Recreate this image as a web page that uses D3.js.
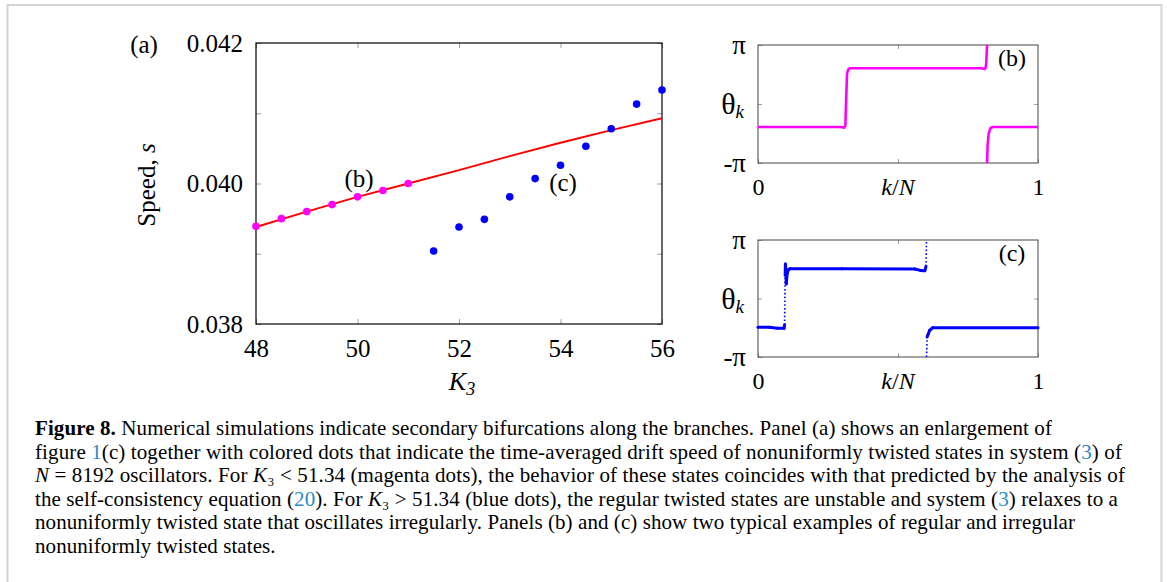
<!DOCTYPE html>
<html>
<head>
<meta charset="utf-8">
<script src="https://cdn.jsdelivr.net/npm/d3@7"></script>
<style>
  body { margin: 0; background: #fff; }
  svg { display: block; }
  text { font-family: "Liberation Serif", "Times New Roman", serif; fill: #000; }
</style>
</head>
<body>
<svg id="fig" width="1167" height="582"></svg>
<script>
// панель (a): теоретическая ветвь и точки моделирования
const lineK3 = [48, 49, 50, 51, 52, 53, 54, 55, 56];
const lineS = [0.03938, 0.03960, 0.03981, 0.04000, 0.04019, 0.04039, 0.04058, 0.04076, 0.04093];
const magentaK3 = [48, 48.5, 49, 49.5, 50, 50.5, 51];
const magentaS = [0.03939, 0.03950, 0.03960, 0.03970, 0.03981, 0.03990, 0.04000];
const blueK3 = [51.5, 52, 52.5, 53, 53.5, 54, 54.5, 55, 55.5, 56];
const blueS = [0.03904, 0.03938, 0.03949, 0.03981, 0.04007, 0.04026, 0.04053, 0.04078, 0.04113, 0.04133];
const kTicks = [48, 50, 52, 54, 56];
const sTicks = [0.038, 0.039, 0.040, 0.041, 0.042];
const sLabels = [0.038, 0.040, 0.042];

// панели (b) и (c): θ_k в единицах π против k/N
const bPart1 = [[0, -0.39], [0.29, -0.39], [0.300, -0.395], [0.308, -0.40], [0.312, -0.37], [0.315, 0.10], [0.318, 0.52], [0.323, 0.59], [0.33, 0.605], [0.80, 0.605], [0.808, 0.595], [0.812, 0.60], [0.815, 0.68], [0.818, 1.0]];
const bPart2 = [[0.818, -1.0], [0.820, -0.70], [0.824, -0.50], [0.830, -0.41], [0.838, -0.39], [1, -0.39]];
const cPart1 = [[0, -0.49], [0.04, -0.49], [0.07, -0.51], [0.093, -0.51], [0.095, -0.45], [0.097, 0.40], [0.098, 0.59], [0.100, 0.45], [0.101, 0.25], [0.104, 0.42], [0.108, 0.49], [0.114, 0.51], [0.30, 0.51], [0.56, 0.505], [0.58, 0.48], [0.596, 0.475], [0.600, 0.55], [0.602, 1.0]];
const cPart2 = [[0.602, -1.0], [0.604, -0.66], [0.607, -0.62], [0.613, -0.545], [0.624, -0.50], [1, -0.50]];

const captionLines = [
  [["Figure 8.", "b"], [" Numerical simulations indicate secondary bifurcations along the branches. Panel (a) shows an enlargement of", ""]],
  [["figure ", ""], ["1", "l"], ["(c) together with colored dots that indicate the time-averaged drift speed of nonuniformly twisted states in system (", ""], ["3", "l"], [") of", ""]],
  [["N", "i"], [" = 8192 oscillators. For ", ""], ["K", "i"], ["₃ < 51.34 (magenta dots), the behavior of these states coincides with that predicted by the analysis of", ""]],
  [["the self-consistency equation (", ""], ["20", "l"], ["). For ", ""], ["K", "i"], ["₃ > 51.34 (blue dots), the regular twisted states are unstable and system (", ""], ["3", "l"], [") relaxes to a", ""]],
  [["nonuniformly twisted state that oscillates irregularly. Panels (b) and (c) show two typical examples of regular and irregular", ""]],
  [["nonuniformly twisted states.", ""]]
];
const captionEnds = [1052, 1122, 1125, 1118, 1075, 277];

const svg = d3.select("#fig");

// серая рамка вокруг рисунка
svg.append("rect")
  .attr("x", 7.5).attr("y", 5).attr("width", 1154).attr("height", 620)
  .attr("fill", "none").attr("stroke", "#d4d4d4").attr("stroke-width", 2);

// ---------- панель (a) ----------
const A = { left: 256, right: 662, top: 43, bottom: 324 };
const x = d3.scaleLinear().domain([48, 56]).range([A.left, A.right]);
const y = d3.scaleLinear().domain([0.038, 0.042]).range([A.bottom, A.top]);

function styleAxis(g, size) {
  g.select(".domain").remove();
  g.selectAll(".tick line").attr("stroke", "#a0a0a0");
  g.selectAll(".tick text").style("font-family", '"Liberation Serif", serif').style("font-size", size + "px").attr("fill", "#000");
}

svg.append("g").attr("transform", `translate(0,${A.bottom})`)
  .call(d3.axisBottom(x).tickValues(kTicks).tickSize(-5).tickPadding(15).tickFormat(d3.format("d")))
  .call((g) => styleAxis(g, 25));
svg.append("g").attr("transform", `translate(0,${A.top})`)
  .call(d3.axisTop(x).tickValues(kTicks).tickSize(-5).tickFormat(""))
  .call((g) => styleAxis(g, 25));
svg.append("g").attr("transform", `translate(${A.left},0)`)
  .call(d3.axisLeft(y).tickValues(sTicks).tickSize(-5).tickPadding(13)
    .tickFormat((d) => (sLabels.some((v) => Math.abs(v - d) < 1e-9) ? d3.format(".3f")(d) : "")))
  .call((g) => styleAxis(g, 25));
svg.append("g").attr("transform", `translate(${A.right},0)`)
  .call(d3.axisRight(y).tickValues(sTicks).tickSize(-5).tickFormat(""))
  .call((g) => styleAxis(g, 25));

svg.append("rect")
  .attr("x", A.left).attr("y", A.top).attr("width", A.right - A.left).attr("height", A.bottom - A.top)
  .attr("fill", "none").attr("stroke", "#000").attr("stroke-width", 1.2);

svg.append("path")
  .datum(d3.zip(lineK3, lineS))
  .attr("d", d3.line().x((d) => x(d[0])).y((d) => y(d[1])))
  .attr("fill", "none").attr("stroke", "#ff0000").attr("stroke-width", 2);

svg.append("g").selectAll("circle")
  .data(d3.zip(magentaK3, magentaS))
  .enter().append("circle")
  .attr("cx", (d) => x(d[0])).attr("cy", (d) => y(d[1])).attr("r", 3.8)
  .attr("fill", "#ff00ff");

svg.append("g").selectAll("circle")
  .data(d3.zip(blueK3, blueS))
  .enter().append("circle")
  .attr("cx", (d) => x(d[0])).attr("cy", (d) => y(d[1])).attr("r", 3.8)
  .attr("fill", "#0000ff");

svg.append("text").attr("x", 144).attr("y", 53).attr("text-anchor", "middle").style("font-size", "25px").text("(a)");
svg.append("text").attr("x", 359).attr("y", 187).attr("text-anchor", "middle").style("font-size", "25px").text("(b)");
svg.append("text").attr("x", 563).attr("y", 191).attr("text-anchor", "middle").style("font-size", "25px").text("(c)");

const yLab = svg.append("text")
  .attr("transform", "translate(155,185) rotate(-90)")
  .attr("text-anchor", "middle").style("font-size", "25px");
yLab.append("tspan").text("Speed, ");
yLab.append("tspan").style("font-style", "italic").text("s");

const xLab = svg.append("text").attr("x", 462).attr("y", 390).attr("text-anchor", "middle").style("font-size", "26px");
xLab.append("tspan").style("font-style", "italic").text("K");
xLab.append("tspan").style("font-style", "italic").style("font-size", "18px").attr("dy", 5).text("3");

// ---------- панели (b), (c) ----------
function drawPhase(top, bottom, parts, color, tag, dottedJumps) {
  const L = 758, R = 1038;
  const px = d3.scaleLinear().domain([0, 1]).range([L, R]);
  const py = d3.scaleLinear().domain([-1, 1]).range([bottom, top]);
  const g = svg.append("g");

  g.append("g").attr("transform", `translate(0,${bottom})`)
    .call(d3.axisBottom(px).tickValues([0, 0.5, 1]).tickSize(-4).tickPadding(15)
      .tickFormat((d) => (d === 0.5 ? "" : d3.format("d")(d))))
    .call((a) => styleAxis(a, 24));
  g.append("g").attr("transform", `translate(0,${top})`)
    .call(d3.axisTop(px).tickValues([0.5]).tickSize(-4).tickFormat(""))
    .call((a) => styleAxis(a, 24));
  g.append("g").attr("transform", `translate(${L},0)`)
    .call(d3.axisLeft(py).tickValues([-1, 0, 1]).tickSize(-4).tickPadding(12)
      .tickFormat((d) => (d === 0 ? "" : d > 0 ? "π" : "-π")))
    .call((a) => styleAxis(a, 27));
  g.append("g").attr("transform", `translate(${R},0)`)
    .call(d3.axisRight(py).tickValues([0]).tickSize(-4).tickFormat(""))
    .call((a) => styleAxis(a, 24));

  g.append("rect")
    .attr("x", L).attr("y", top).attr("width", R - L).attr("height", bottom - top)
    .attr("fill", "none").attr("stroke", "#444").attr("stroke-width", 1);

  const line = d3.line().x((d) => px(d[0])).y((d) => py(d[1]));
  parts.forEach((pts) => {
    if (!dottedJumps) {
      g.append("path").datum(pts).attr("d", line)
        .attr("fill", "none").attr("stroke", color).attr("stroke-width", 2.6)
        .attr("stroke-linejoin", "round");
      return;
    }
    // крутые участки рисуем точками, как отдельные маркеры
    for (let i = 1; i < pts.length; i++) {
      const a = pts[i - 1], b = pts[i];
      const dy = Math.abs(py(b[1]) - py(a[1]));
      const dx = Math.abs(px(b[0]) - px(a[0]));
      const steep = dy > 12 && dy > 4 * dx;
      g.append("path").datum([a, b]).attr("d", line)
        .attr("fill", "none").attr("stroke", color)
        .attr("stroke-width", steep ? 1.6 : 3)
        .attr("stroke-dasharray", steep ? "1.6,2.2" : null)
        .attr("stroke-linecap", steep ? "butt" : "round");
    }
  });

  const th = g.append("text").attr("x", 744).attr("y", (top + bottom) / 2 + 10)
    .attr("text-anchor", "end").style("font-size", "30px");
  th.append("tspan").text("θ");
  th.append("tspan").style("font-style", "italic").style("font-size", "19px").attr("dy", 4).text("k");

  const kn = g.append("text").attr("x", px(0.5)).attr("y", bottom + 32)
    .attr("text-anchor", "middle").style("font-size", "24px");
  kn.append("tspan").style("font-style", "italic").text("k");
  kn.append("tspan").text("/");
  kn.append("tspan").style("font-style", "italic").text("N");

  g.append("text").attr("x", 1012).attr("y", top + 21)
    .attr("text-anchor", "middle").style("font-size", "24px").text(tag);
}

drawPhase(45, 163, [bPart1, bPart2], "#ff00ff", "(b)", false);
drawPhase(240, 357, [cPart1, cPart2], "#0000ff", "(c)", true);

// ---------- подпись ----------
const capX = 35, capY0 = 435, capStep = 23.5;
let lastSpacing = 0;
captionLines.forEach((parts, i) => {
  const t = svg.append("text").attr("x", capX).attr("y", capY0 + i * capStep)
    .style("font-size", "21px");
  parts.forEach(([str, kind]) => {
    const s = t.append("tspan").text(str);
    if (kind === "b") s.style("font-weight", "bold");
    if (kind === "i") s.style("font-style", "italic");
    if (kind === "l") s.attr("fill", "#2b8ac6");
  });
  const n = parts.reduce((acc, p) => acc + p[0].length, 0);
  const w = t.node().getComputedTextLength();
  const target = captionEnds[i] - capX;
  const sp = i === captionLines.length - 1 ? lastSpacing : (target - w) / n;
  lastSpacing = sp;
  t.style("letter-spacing", sp + "px");
});
</script>
</body>
</html>
